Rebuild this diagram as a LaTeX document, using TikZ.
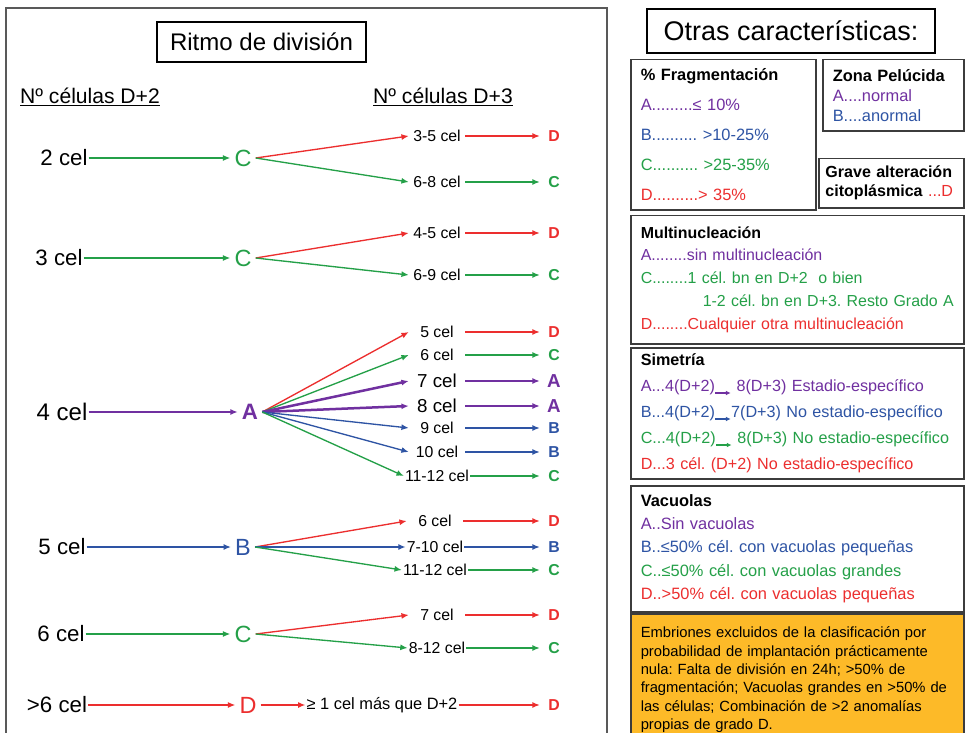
\documentclass[tikz,border=0pt]{standalone}
\usepackage{fontspec}
\setmainfont{Liberation Sans}
\usetikzlibrary{arrows.meta}
\frenchspacing

\definecolor{cgreen}{RGB}{36,160,72}
\definecolor{cred}{RGB}{236,46,46}
\definecolor{cpurple}{RGB}{112,48,160}
\definecolor{cblue}{RGB}{46,84,164}
\definecolor{cgray}{RGB}{60,60,60}
\definecolor{corange}{RGB}{253,186,40}

\newcommand\fsz[2]{\fontsize{#1}{#2}\selectfont}
\newcommand\sarr{\raisebox{-0.45ex}{\tikz\draw[-{Latex[length=4pt,width=4pt]},line width=0.9pt] (0,0) -- (13pt,0);}}

\begin{document}
\begin{tikzpicture}
    [
    x=0.03cm, y=-0.03cm,
    cel/.style={font=\fsz{19pt}{22pt}, inner sep=0.03cm},
    grade/.style={font=\fsz{20pt}{23pt}, inner xsep=0.12cm, inner ysep=0.03cm},
    cnt/.style={font=\fsz{13.5pt}{16pt}, minimum width=1.68cm, inner sep=0.03cm},
    bigcnt/.style={cnt, font=\fsz{16pt}{18pt}},
    res/.style={font=\fsz{13.5pt}{16pt}\bfseries, minimum width=0.84cm, inner sep=0.03cm},
    bigres/.style={res, font=\fsz{16pt}{18pt}\bfseries},
    head/.style={font=\fsz{18pt}{21pt}},
    titlebox/.style={draw=black, line width=0.06cm, inner sep=0},
    panel/.style={draw=cgray, line width=0.045cm, anchor=north west, align=left,
        inner xsep=0.3cm, inner ysep=0},
    arr/.style={-{Latex[length=2.2mm,width=1.8mm]}, line width=0.04cm},
    warr/.style={arr, line width=0.075cm}
    ]

    \clip (0,0) rectangle (966,733);
    \fill[white] (0,0) rectangle (966,733);

% Ritmo de division
    \draw[cgray!85, line width=0.045cm] (6,8) rectangle (607,760);
    \node[titlebox, minimum width=6.27cm, minimum height=1.2cm, font=\fsz{20.5pt}{24pt}] (ritmo) at (261.5,42) {Ritmo de división};
    \node[head] (d2) at (90,97) {\underline{Nº células D+2}};
    \node[head] (d3) at (443,97) {\underline{Nº células D+3}};

% 2 cel
    \node[cel] (n2) at (64,158) {2 cel};
    \node[grade, cgreen] (g2) at (243,158) {C};
    \draw[arr, cgreen] (n2) -- (g2);
    \foreach \k/\y/\t/\c/\r in {a/136/3-5 cel/cred/D, b/182/6-8 cel/cgreen/C}{
        \node[cnt] (b2\k) at (437,\y) {\t};
        \node[res, \c] (r2\k) at (554,\y) {\r};
        \draw[arr, \c] (g2.east) -- (b2\k.west);
        \draw[arr, \c] (b2\k) -- (r2\k);
    }

% 3 cel
    \node[cel] (n3) at (59,258) {3 cel};
    \node[grade, cgreen] (g3) at (243,258) {C};
    \draw[arr, cgreen] (n3) -- (g3);
    \foreach \k/\y/\t/\c/\r in {a/233/4-5 cel/cred/D, b/275/6-9 cel/cgreen/C}{
        \node[cnt] (b3\k) at (437,\y) {\t};
        \node[res, \c] (r3\k) at (554,\y) {\r};
        \draw[arr, \c] (g3.east) -- (b3\k.west);
        \draw[arr, \c] (b3\k) -- (r3\k);
    }

% 4 cel
    \node[cel, font=\fsz{20.5pt}{24pt}] (n4) at (62,412) {4 cel};
    \node[grade, cpurple, font=\fsz{19pt}{22pt}\bfseries] (g4) at (250,412) {A};
    \draw[warr, cpurple] (n4) -- (g4);
    \foreach \k/\y/\t/\c/\r/\s/\q/\w in {a/332/5 cel/cred/D/cnt/res/arr, b/355/6 cel/cgreen/C/cnt/res/arr,
        c/381/7 cel/cpurple/A/bigcnt/bigres/warr, d/406/8 cel/cpurple/A/bigcnt/bigres/warr,
        e/428/9 cel/cblue/B/cnt/res/arr, f/452/10 cel/cblue/B/cnt/res/arr, g/476/11-12 cel/cgreen/C/cnt/res/arr}{
        \node[\s] (b4\k) at (437,\y) {\t};
        \node[\q, \c] (r4\k) at (554,\y) {\r};
        \draw[\w, \c] (g4.east) -- (b4\k.west);
        \draw[\w, \c] (b4\k) -- (r4\k);
    }

% 5 cel
    \node[cel] (n5) at (62,547) {5 cel};
    \node[grade, cblue] (g5) at (243,547) {B};
    \draw[arr, cblue] (n5) -- (g5);
    \foreach \k/\y/\t/\c/\r in {a/521/6 cel/cred/D, b/547/7-10 cel/cblue/B, c/570/11-12 cel/cgreen/C}{
        \node[cnt] (b5\k) at (435,\y) {\t};
        \node[res, \c] (r5\k) at (554,\y) {\r};
        \draw[arr, \c] (g5.east) -- (b5\k.west);
        \draw[arr, \c] (b5\k) -- (r5\k);
    }

% 6 cel
    \node[cel] (n6) at (61,634) {6 cel};
    \node[grade, cgreen] (g6) at (243,634) {C};
    \draw[arr, cgreen] (n6) -- (g6);
    \foreach \k/\y/\t/\c/\r in {a/615/7 cel/cred/D, b/648/8-12 cel/cgreen/C}{
        \node[cnt] (b6\k) at (437,\y) {\t};
        \node[res, \c] (r6\k) at (554,\y) {\r};
        \draw[arr, \c] (g6.east) -- (b6\k.west);
        \draw[arr, \c] (b6\k) -- (r6\k);
    }

% mas de 6 cel
    \node[cel] (n7) at (57,705) {>6 cel};
    \node[grade, cred] (g7) at (248,705) {D};
    \node[cnt, font=\fsz{14pt}{16pt}] (b7) at (382,705) {≥ 1 cel más que D+2};
    \node[res, cred] (r7) at (554,705) {D};
    \draw[arr, cred] (n7) -- (g7);
    \draw[arr, cred] (g7) -- (b7);
    \draw[arr, cred] (b7) -- (r7);

% Otras caracteristicas
    \node[titlebox, minimum width=8.64cm, minimum height=1.32cm, font=\fsz{23pt}{27pt}] (otras) at (791,31) {Otras características:};

    \node[panel, text width=4.95cm, minimum height=4.5cm, font=\fsz{14pt}{25.6pt}] (frag) at (630,59)
        {\textbf{\% Fragmentación}\\
        {\color{cpurple}A.........≤ 10\%}\\
        {\color{cblue}B.......... >10-25\%}\\
        {\color{cgreen}C.......... >25-35\%}\\
        {\color{cred}D..........> 35\%}};

    \node[panel, text width=3.63cm, minimum height=2.13cm, font=\fsz{14pt}{17pt}] (zona) at (822,59)
        {\textbf{Zona Pelúcida}\\
        {\color{cpurple}A....normal}\\
        {\color{cblue}B....anormal}};

    \node[panel, inner xsep=0.2cm, text width=3.95cm, minimum height=1.47cm, font=\fsz{13.7pt}{16.2pt}] (grave) at (818,158)
        {\textbf{Grave alteración}\\
        \textbf{citoplásmica} {\color{cred}...D}};

    \node[panel, text width=9.39cm, minimum height=3.84cm, font=\fsz{13.6pt}{19.6pt}] (multi) at (630,215)
        {\textbf{Multinucleación}\\
        {\color{cpurple}A........sin multinucleación}\\
        {\color{cgreen}C........1 cél. bn en D+2\ \ o bien}\\
        \mbox{\hspace*{1.86cm}\color{cgreen}1-2 cél. bn en D+3. Resto Grado A}\\
        {\color{cred}D........Cualquier otra multinucleación}};

    \node[panel, text width=9.39cm, minimum height=3.93cm, font=\fsz{13.8pt}{22.2pt}] (sim) at (630,347)
        {\textbf{Simetría}\\
        {\color{cpurple}A...4(D+2)\sarr\ 8(D+3) Estadio-específico}\\
        {\color{cblue}B...4(D+2)\sarr7(D+3) No estadio-específico}\\
        {\color{cgreen}C...4(D+2)\sarr\ 8(D+3) No estadio-específico}\\
        {\color{cred}D...3 cél. (D+2) No estadio-específico}};

    \node[panel, text width=9.39cm, minimum height=3.78cm, font=\fsz{14pt}{20pt}] (vac) at (630,485)
        {\textbf{Vacuolas}\\
        {\color{cpurple}A..Sin vacuolas}\\
        {\color{cblue}B..≤50\% cél. con vacuolas pequeñas}\\
        {\color{cgreen}C..≤50\% cél. con vacuolas grandes}\\
        {\color{cred}D..>50\% cél. con vacuolas pequeñas}};

    \node[panel, fill=corange, text width=9.39cm, minimum height=3.96cm, font=\fsz{12.6pt}{15.7pt}] (excl) at (630,613)
        {Embriones excluidos de la clasificación por\\
        probabilidad de implantación prácticamente\\
        nula: Falta de división en 24h; >50\% de\\
        fragmentación; Vacuolas grandes en >50\% de\\
        las células; Combinación de >2 anomalías\\
        propias de grado D.};

\end{tikzpicture}
\end{document}
